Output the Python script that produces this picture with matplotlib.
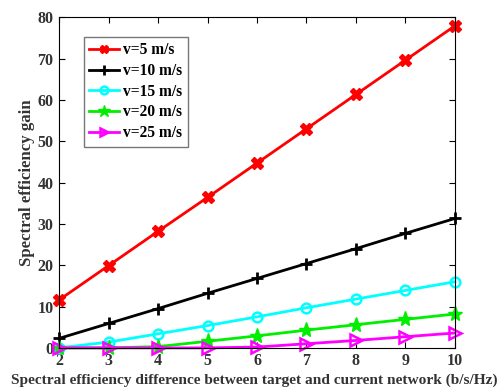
import matplotlib
matplotlib.use("Agg")
import matplotlib.pyplot as plt

plt.rcParams['font.family'] = ['Liberation Serif', 'DejaVu Serif']
plt.rcParams['font.weight'] = 'bold'

se_diff = [2, 3, 4, 5, 6, 7, 8, 9, 10]
gain_v5 = [11.6, 19.9, 28.2, 36.4, 44.7, 53.0, 61.3, 69.6, 77.9]
gain_v10 = [2.3, 5.9, 9.5, 13.2, 16.8, 20.4, 24.0, 27.7, 31.3]
gain_v15 = [0.0, 1.4, 3.4, 5.4, 7.5, 9.7, 11.8, 13.9, 16.0]
gain_v20 = [0.0, 0.0, 0.3, 1.6, 2.9, 4.3, 5.6, 6.9, 8.2]
gain_v25 = [0.0, 0.0, 0.0, 0.0, 0.2, 1.0, 1.8, 2.7, 3.6]
labels = ['v=5 m/s', 'v=10 m/s', 'v=15 m/s', 'v=20 m/s', 'v=25 m/s']
x_ticks = [2, 3, 4, 5, 6, 7, 8, 9, 10]
y_ticks = [0, 10, 20, 30, 40, 50, 60, 70, 80]

fig = plt.figure(figsize=(5.01, 3.90), dpi=100)
ax = fig.add_axes([0.118, 0.108, 0.790, 0.848])

styles = [
    (gain_v5, 'red', dict(marker='X', markersize=8)),
    (gain_v10, 'black', dict(marker='+', markersize=9, markeredgewidth=2)),
    (gain_v15, 'cyan', dict(marker='o', markersize=7, markerfacecolor='none', markeredgewidth=1.8)),
    (gain_v20, '#00ee00', dict(marker='*', markersize=11)),
    (gain_v25, 'magenta', dict(marker='>', markersize=8, markerfacecolor='none', markeredgewidth=1.8)),
]
for (vals, col, mk), lab in zip(styles, labels):
    ax.plot(se_diff, vals, color=col, linewidth=2, label=lab, clip_on=False, **mk)

ax.set_xlim(2, 10)
ax.set_ylim(0, 80)
ax.set_xticks(x_ticks)
ax.set_yticks(y_ticks)
ax.tick_params(direction='in', top=True, right=True, length=4, labelsize=11.5, pad=4)
for t in ax.get_xticklabels() + ax.get_yticklabels():
    t.set_fontweight('bold')
    t.set_color('#333333')
fig.text(0.508, 0.008, 'Spectral efficiency difference between target and current network (b/s/Hz)',
         fontsize=11.1, fontweight='bold', color='#333333', ha='center', va='bottom')
ax.set_ylabel('Spectral efficiency gain', fontsize=12.1, fontweight='bold', color='#333333', labelpad=2)

leg = ax.legend(loc='upper left', bbox_to_anchor=(0.062, 0.94),
                prop={'weight': 'bold', 'size': 11.2}, fancybox=False, edgecolor='#555555',
                handlelength=1.9, borderpad=0.35, labelspacing=0.3, handletextpad=0.3,
                borderaxespad=0, markerscale=0.8)
leg.get_frame().set_linewidth(1.0)

fig.savefig('out.png', dpi=100)
